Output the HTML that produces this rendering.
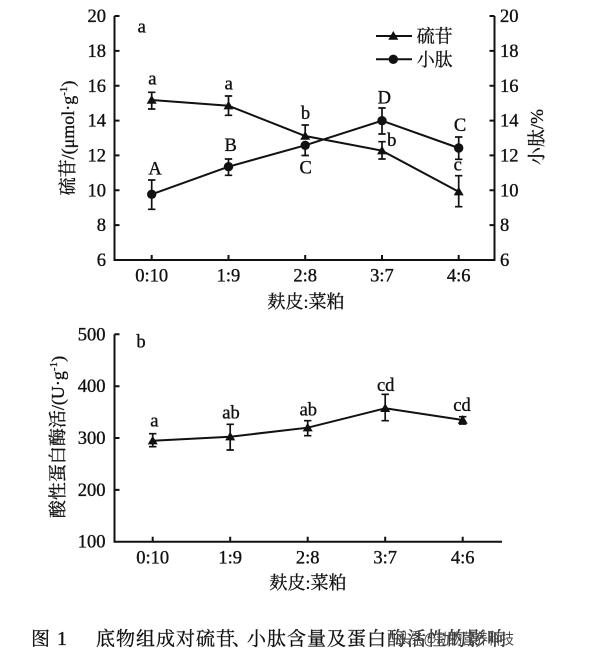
<!DOCTYPE html>
<html><head><meta charset="utf-8">
<style>
html,body{margin:0;padding:0;background:#fff;}
svg{display:block;}
.n{font-family:"Liberation Serif","Noto Serif CJK SC",serif;font-size:18.5px;fill:#111;stroke:#111;stroke-width:0.35px;}
.c{font-family:"Liberation Serif","Noto Serif CJK SC",serif;font-size:18px;fill:#111;stroke:#111;stroke-width:0.3px;}
</style></head>
<body>
<svg width="601" height="655" viewBox="0 0 601 655" xmlns="http://www.w3.org/2000/svg">
<rect width="601" height="655" fill="#fff"/>
<!-- ============ TOP CHART ============ -->
<g stroke="#111" stroke-width="2" fill="none">
  <path d="M114.5,16 V260 H494.5 V16"/>
  <path d="M114.5,16h5 M114.5,50.9h5 M114.5,85.7h5 M114.5,120.6h5 M114.5,155.4h5 M114.5,190.3h5 M114.5,225.1h5"/>
  <path d="M494.5,16h-5 M494.5,50.9h-5 M494.5,85.7h-5 M494.5,120.6h-5 M494.5,155.4h-5 M494.5,190.3h-5 M494.5,225.1h-5"/>
  <path d="M151.7,260v-5 M228.5,260v-5 M305.2,260v-5 M382,260v-5 M458.7,260v-5"/>
</g>
<g class="n" text-anchor="end">
  <text x="106" y="22">20</text>
  <text x="106" y="57">18</text>
  <text x="106" y="92">16</text>
  <text x="106" y="126.6">14</text>
  <text x="106" y="161.4">12</text>
  <text x="106" y="196.3">10</text>
  <text x="106" y="231.1">8</text>
  <text x="106" y="266">6</text>
</g>
<g class="n" text-anchor="start">
  <text x="500" y="22">20</text>
  <text x="500" y="57">18</text>
  <text x="500" y="92">16</text>
  <text x="500" y="126.6">14</text>
  <text x="500" y="161.4">12</text>
  <text x="500" y="196.3">10</text>
  <text x="500" y="231.1">8</text>
  <text x="500" y="266">6</text>
</g>
<g class="n" text-anchor="middle">
  <text x="151.7" y="281.5">0:10</text>
  <text x="228.5" y="281.5">1:9</text>
  <text x="305.2" y="281.5">2:8</text>
  <text x="382" y="281.5">3:7</text>
  <text x="458.7" y="281.5">4:6</text>
</g>
<text class="c" x="306" y="308" text-anchor="middle">麸皮:菜粕</text>
<text class="c" transform="translate(74,138) rotate(-90)" text-anchor="middle">硫苷/(μmol·g<tspan font-size="11" dy="-7">-1</tspan><tspan dy="7">)</tspan></text>
<text class="c" transform="translate(543,137) rotate(-90)" text-anchor="middle">小肽/%</text>
<text class="n" x="141.7" y="32.5" text-anchor="middle">a</text>

<g stroke="#111" stroke-width="2" fill="none">
  <polyline points="151.7,100 228.5,105.7 305.2,136 382,150.7 458.7,191.7"/>
  <polyline points="151.7,194.3 228.5,166.7 305.2,145.3 382,120.7 458.7,148"/>
</g>
<g stroke="#111" stroke-width="1.7" fill="none">
  <path d="M151.7,92.3V109 M148,92.3h7.4 M148,109h7.4"/>
  <path d="M228.5,96V115.3 M224.8,96h7.4 M224.8,115.3h7.4"/>
  <path d="M305.2,125V136 M301.5,125h7.4"/>
  <path d="M382,141.7V159 M378.3,141.7h7.4 M378.3,159h7.4"/>
  <path d="M458.7,175.7V206.7 M455,175.7h7.4 M455,206.7h7.4"/>
  <path d="M151.7,180V209.3 M148,180h7.4 M148,209.3h7.4"/>
  <path d="M228.5,159V175.3 M224.8,159h7.4 M224.8,175.3h7.4"/>
  <path d="M305.2,145.3V155.5 M301.5,155.5h7.4"/>
  <path d="M382,108V134 M378.3,108h7.4 M378.3,134h7.4"/>
  <path d="M458.7,137V159.3 M455,137h7.4 M455,159.3h7.4"/>
</g>
<g fill="#111">
  <path d="M151.7,95 l5,8.7 h-10z"/>
  <path d="M228.5,100.7 l5,8.7 h-10z"/>
  <path d="M305.2,131 l5,8.7 h-10z"/>
  <path d="M382,145.7 l5,8.7 h-10z"/>
  <path d="M458.7,186.7 l5,8.7 h-10z"/>
  <circle cx="151.7" cy="194.3" r="4.7"/>
  <circle cx="228.5" cy="166.7" r="4.7"/>
  <circle cx="305.2" cy="145.3" r="4.7"/>
  <circle cx="382" cy="120.7" r="4.7"/>
  <circle cx="458.7" cy="148" r="4.7"/>
</g>
<g class="n" text-anchor="middle">
  <text x="152.3" y="84.5">a</text>
  <text x="228.7" y="89.5">a</text>
  <text x="305.5" y="119">b</text>
  <text x="155" y="174.5">A</text>
  <text x="230.7" y="151">B</text>
  <text x="305.7" y="173.5">C</text>
  <text x="384.3" y="103.5">D</text>
  <text x="391.7" y="146">b</text>
  <text x="460" y="131">C</text>
  <text x="457.7" y="170.5">c</text>
</g>
<g stroke="#111" stroke-width="2">
  <line x1="376" y1="36" x2="412" y2="36"/>
  <line x1="376" y1="59.3" x2="412" y2="59.3"/>
</g>
<path d="M393.3,31 l5,8.7 h-10z" fill="#111"/>
<circle cx="393.3" cy="59.3" r="4.7" fill="#111"/>
<text class="c" x="416.7" y="42.5">硫苷</text>
<text class="c" x="416.7" y="65.8">小肽</text>

<!-- ============ BOTTOM CHART ============ -->
<g stroke="#111" stroke-width="2" fill="none">
  <path d="M114.5,334.3 V541.7 H502"/>
  <path d="M114.5,334.3h5 M114.5,386.2h5 M114.5,438h5 M114.5,489.9h5"/>
  <path d="M152.7,541.7v-5 M230.2,541.7v-5 M307.7,541.7v-5 M385.2,541.7v-5 M462.7,541.7v-5"/>
</g>
<g class="n" text-anchor="end">
  <text x="105.5" y="340.3">500</text>
  <text x="105.5" y="392.2">400</text>
  <text x="105.5" y="444">300</text>
  <text x="105.5" y="495.9">200</text>
  <text x="105.5" y="547.7">100</text>
</g>
<g class="n" text-anchor="middle">
  <text x="152.7" y="563.5">0:10</text>
  <text x="230.2" y="563.5">1:9</text>
  <text x="307.7" y="563.5">2:8</text>
  <text x="385.2" y="563.5">3:7</text>
  <text x="462.7" y="563.5">4:6</text>
</g>
<text class="c" x="308" y="589" text-anchor="middle">麸皮:菜粕</text>
<text class="c" transform="translate(64,437) rotate(-90)" text-anchor="middle">酸性蛋白酶活/(U·g<tspan font-size="11" dy="-7">-1</tspan><tspan dy="7">)</tspan></text>
<text class="n" x="141" y="347.7" text-anchor="middle">b</text>

<polyline points="152.7,440.7 230.2,436.7 307.7,427.7 385.2,408.3 462.7,420" stroke="#111" stroke-width="2" fill="none"/>
<g stroke="#111" stroke-width="1.7" fill="none">
  <path d="M152.7,433.7V446.7 M149,433.7h7.4 M149,446.7h7.4"/>
  <path d="M230.2,424.3V450 M226.5,424.3h7.4 M226.5,450h7.4"/>
  <path d="M307.7,420.7V435.7 M304,420.7h7.4 M304,435.7h7.4"/>
  <path d="M385.2,394.3V420.7 M381.5,394.3h7.4 M381.5,420.7h7.4"/>
  <path d="M462.7,416.7V424 M459,416.7h7.4 M459,424h7.4"/>
</g>
<g fill="#111">
  <path d="M152.7,435.7 l5,8.7 h-10z"/>
  <path d="M230.2,431.7 l5,8.7 h-10z"/>
  <path d="M307.7,422.7 l5,8.7 h-10z"/>
  <path d="M385.2,403.3 l5,8.7 h-10z"/>
  <path d="M462.7,415 l5,8.7 h-10z"/>
</g>
<g class="n" text-anchor="middle">
  <text x="154.3" y="426.5">a</text>
  <text x="231" y="418.7">ab</text>
  <text x="308.3" y="415.3">ab</text>
  <text x="385.7" y="391">cd</text>
  <text x="462" y="411">cd</text>
</g>

<!-- ============ CAPTION ============ -->
<g font-family="'Noto Serif CJK SC','Liberation Serif',serif" font-size="19" fill="#111" stroke="#111" stroke-width="0.3">
  <text x="31" y="645">图</text>
  <text x="57" y="645" font-family="'Liberation Serif',serif" font-size="20">1</text>
  <text y="645" x="96 116 136 156 176 196 216 232 247 267 287 307 327 347 367">底物组成对硫苷、小肽含量及蛋白</text>
  <text y="645" x="387 407 427 447 467 487" fill="#333" stroke="#333">酶活性的影响</text>
</g>
<text x="398" y="644" font-family="'Noto Sans CJK SC','Liberation Sans',sans-serif" font-size="15" fill="#444" textLength="116" lengthAdjust="spacingAndGlyphs">头条@动物营养科技</text>
</svg>
</body></html>
